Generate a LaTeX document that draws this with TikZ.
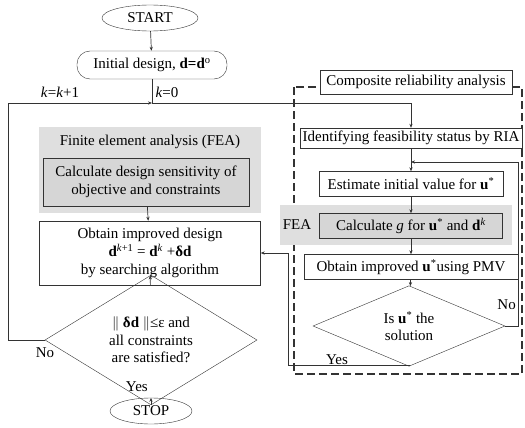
\documentclass[tikz,border=0pt]{standalone}
\usepackage{fontspec}
\setmainfont{Liberation Serif}
\usepackage{amsmath}
\usetikzlibrary{shapes.geometric, arrows.meta, positioning, calc}
\tikzset{
  box/.style={rectangle, draw=black!80, fill=white, inner sep=0pt, align=center, font=\fontsize{15}{18}\selectfont},
  graybox/.style={box, fill=gray!32},
  shade/.style={rectangle, fill=gray!25, inner sep=0pt},
  term/.style={ellipse, draw=black!80, inner sep=0pt, font=\fontsize{15}{18}\selectfont},
  decision/.style={diamond, draw=black!80, inner sep=0pt, align=center, font=\fontsize{15}{17.5}\selectfont},
  arr/.style={-{Stealth[length=4pt,width=3.2pt]}, draw=black!80, line width=0.7pt},
  line/.style={draw=black!80, line width=0.7pt},
  lbl/.style={font=\fontsize{15}{18}\selectfont, inner sep=0pt},
}

\begin{document}
\begin{tikzpicture}[x=1pt, y=-1pt]
  \useasboundingbox (0,0) rectangle (525,428);
  % left column
  \node[term, minimum width=96pt, minimum height=26pt] (start) at (150,18) {START};
  \node[box, rounded corners=13pt, minimum width=150pt, minimum height=28pt] (init) at (152,65) {Initial design, \textbf{d=d}\textsuperscript{o}};
  \node[shade, minimum width=222pt, minimum height=86pt] (fea) at (150,170) {};
  \node[lbl] (featitle) at (150,142) {Finite element analysis (FEA)};
  \node[graybox, minimum width=206pt, minimum height=48pt] (sens) at (146,182) {Calculate design sensitivity of\\objective and constraints};
  \node[box, minimum width=221pt, minimum height=64pt] (improve) at (150,253) {Obtain improved design\\\textbf{d}\textsuperscript{\textit{k}+1} = \textbf{d}\textsuperscript{\textit{k}} +\textbf{δd}\\by searching algorithm};
  \node[decision, minimum width=212pt, minimum height=80pt] (check) at (151,340) {$\|$ \textbf{δd} $\|$≤ε and\\all constraints\\are satisfied?};
  \node[term, minimum width=82pt, minimum height=26pt] (stop) at (151,411) {STOP};
  % right column
  \draw[line, dashed, dash pattern=on 8pt off 4pt, line width=1.1pt] (294,87) rectangle (522,374);
  \node[box, minimum width=192pt, minimum height=24pt] (crel) at (416,82) {Composite reliability analysis};
  \node[box, minimum width=222pt, minimum height=20pt] (ria) at (411,138) {Identifying feasibility status by RIA};
  \node[box, minimum width=184pt, minimum height=25pt] (est) at (411,184) {Estimate initial value for \textbf{u}\textsuperscript{*}};
  \node[shade, minimum width=232pt, minimum height=40pt] (feastrip) at (396,225) {};
  \node[lbl] (fealbl) at (297,225) {FEA};
  \node[graybox, minimum width=183pt, minimum height=25pt] (calcg) at (411,226) {Calculate \textit{g} for \textbf{u}\textsuperscript{*} and \textbf{d}\textsuperscript{\textit{k}}};
  \node[box, minimum width=214pt, minimum height=25pt] (pmv) at (411,267) {Obtain improved \textbf{u}\textsuperscript{*}using PMV};
  \node[decision, minimum width=192pt, minimum height=54pt] (isu) at (409,326) {Is \textbf{u}\textsuperscript{*} the\\solution};
  % junctions
  \coordinate (j) at (152,103);
  \coordinate (lp) at (8,340);
  \coordinate (nr) at (518,162);
  \coordinate (yb) at (288,365);
  % connectors
  \draw[arr] (start) -- (init);
  \draw[arr] (init) -- (j) -| (ria);
  \draw[arr] (sens) -- (improve);
  \draw[arr] (improve) -- (check);
  \draw[arr] (check) -- (stop);
  \draw[arr] (check) -- (lp) |- (j);
  \draw[arr] (ria) -- (est);
  \draw[arr] (est) -- (calcg);
  \draw[arr] (calcg) -- (pmv);
  \draw[arr] (pmv) -- (isu);
  \draw[arr] (isu.east) -| (nr) -- (nr -| ria);
  \draw[arr] (isu.south) |- (yb) |- (improve.east);
  % labels
  \node[lbl] (kinc) at (60,92) {\textit{k}=\textit{k}+1};
  \node[lbl] (kzero) at (167,92) {\textit{k}=0};
  \node[lbl] (nol) at (45,353) {No};
  \node[lbl, anchor=east] (yesl) at (148,387) {Yes};
  \node[lbl, anchor=east] (nor) at (516,305) {No};
  \node[lbl] (yesr) at (337,360) {Yes};
\end{tikzpicture}
\end{document}
